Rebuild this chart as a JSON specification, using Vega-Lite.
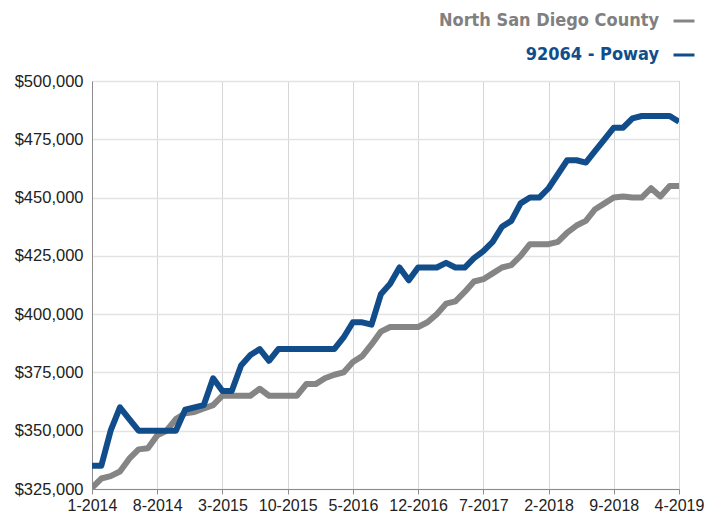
{
  "$schema": "https://vega.github.io/schema/vega-lite/v6.json",
  "autosize": {"type": "none"},
  "width": 587,
  "height": 408,
  "padding": {"left": 92, "top": 81, "right": 39, "bottom": 29},
  "background": "white",
  "config": {
    "view": {"stroke": "#8c8c8c", "strokeWidth": 1},
    "font": "Liberation Sans"
  },
  "data": {
    "values": [
      {"d":"1-2014","s":"North San Diego County","v":325500},
      {"d":"2-2014","s":"North San Diego County","v":329500},
      {"d":"3-2014","s":"North San Diego County","v":330500},
      {"d":"4-2014","s":"North San Diego County","v":332500},
      {"d":"5-2014","s":"North San Diego County","v":338000},
      {"d":"6-2014","s":"North San Diego County","v":342000},
      {"d":"7-2014","s":"North San Diego County","v":342500},
      {"d":"8-2014","s":"North San Diego County","v":348000},
      {"d":"9-2014","s":"North San Diego County","v":350000},
      {"d":"10-2014","s":"North San Diego County","v":355000},
      {"d":"11-2014","s":"North San Diego County","v":357500},
      {"d":"12-2014","s":"North San Diego County","v":358000},
      {"d":"1-2015","s":"North San Diego County","v":359500},
      {"d":"2-2015","s":"North San Diego County","v":361000},
      {"d":"3-2015","s":"North San Diego County","v":365000},
      {"d":"4-2015","s":"North San Diego County","v":365000},
      {"d":"5-2015","s":"North San Diego County","v":365000},
      {"d":"6-2015","s":"North San Diego County","v":365000},
      {"d":"7-2015","s":"North San Diego County","v":368000},
      {"d":"8-2015","s":"North San Diego County","v":365000},
      {"d":"9-2015","s":"North San Diego County","v":365000},
      {"d":"10-2015","s":"North San Diego County","v":365000},
      {"d":"11-2015","s":"North San Diego County","v":365000},
      {"d":"12-2015","s":"North San Diego County","v":370000},
      {"d":"1-2016","s":"North San Diego County","v":370000},
      {"d":"2-2016","s":"North San Diego County","v":372500},
      {"d":"3-2016","s":"North San Diego County","v":374000},
      {"d":"4-2016","s":"North San Diego County","v":375000},
      {"d":"5-2016","s":"North San Diego County","v":379500},
      {"d":"6-2016","s":"North San Diego County","v":382000},
      {"d":"7-2016","s":"North San Diego County","v":387000},
      {"d":"8-2016","s":"North San Diego County","v":392500},
      {"d":"9-2016","s":"North San Diego County","v":394500},
      {"d":"10-2016","s":"North San Diego County","v":394500},
      {"d":"11-2016","s":"North San Diego County","v":394500},
      {"d":"12-2016","s":"North San Diego County","v":394500},
      {"d":"1-2017","s":"North San Diego County","v":396500},
      {"d":"2-2017","s":"North San Diego County","v":400000},
      {"d":"3-2017","s":"North San Diego County","v":404500},
      {"d":"4-2017","s":"North San Diego County","v":405500},
      {"d":"5-2017","s":"North San Diego County","v":409500},
      {"d":"6-2017","s":"North San Diego County","v":414000},
      {"d":"7-2017","s":"North San Diego County","v":415000},
      {"d":"8-2017","s":"North San Diego County","v":417500},
      {"d":"9-2017","s":"North San Diego County","v":420000},
      {"d":"10-2017","s":"North San Diego County","v":421000},
      {"d":"11-2017","s":"North San Diego County","v":425000},
      {"d":"12-2017","s":"North San Diego County","v":430000},
      {"d":"1-2018","s":"North San Diego County","v":430000},
      {"d":"2-2018","s":"North San Diego County","v":430000},
      {"d":"3-2018","s":"North San Diego County","v":431000},
      {"d":"4-2018","s":"North San Diego County","v":435000},
      {"d":"5-2018","s":"North San Diego County","v":438000},
      {"d":"6-2018","s":"North San Diego County","v":440000},
      {"d":"7-2018","s":"North San Diego County","v":445000},
      {"d":"8-2018","s":"North San Diego County","v":447500},
      {"d":"9-2018","s":"North San Diego County","v":450000},
      {"d":"10-2018","s":"North San Diego County","v":450500},
      {"d":"11-2018","s":"North San Diego County","v":450000},
      {"d":"12-2018","s":"North San Diego County","v":450000},
      {"d":"1-2019","s":"North San Diego County","v":454000},
      {"d":"2-2019","s":"North San Diego County","v":450500},
      {"d":"3-2019","s":"North San Diego County","v":455000},
      {"d":"4-2019","s":"North San Diego County","v":455000},
      {"d":"1-2014","s":"92064 - Poway","v":335000},
      {"d":"2-2014","s":"92064 - Poway","v":335000},
      {"d":"3-2014","s":"92064 - Poway","v":350000},
      {"d":"4-2014","s":"92064 - Poway","v":360000},
      {"d":"5-2014","s":"92064 - Poway","v":355000},
      {"d":"6-2014","s":"92064 - Poway","v":350000},
      {"d":"7-2014","s":"92064 - Poway","v":350000},
      {"d":"8-2014","s":"92064 - Poway","v":350000},
      {"d":"9-2014","s":"92064 - Poway","v":350000},
      {"d":"10-2014","s":"92064 - Poway","v":350000},
      {"d":"11-2014","s":"92064 - Poway","v":359000},
      {"d":"12-2014","s":"92064 - Poway","v":360000},
      {"d":"1-2015","s":"92064 - Poway","v":361000},
      {"d":"2-2015","s":"92064 - Poway","v":372500},
      {"d":"3-2015","s":"92064 - Poway","v":367000},
      {"d":"4-2015","s":"92064 - Poway","v":367000},
      {"d":"5-2015","s":"92064 - Poway","v":378000},
      {"d":"6-2015","s":"92064 - Poway","v":382500},
      {"d":"7-2015","s":"92064 - Poway","v":385000},
      {"d":"8-2015","s":"92064 - Poway","v":380000},
      {"d":"9-2015","s":"92064 - Poway","v":385000},
      {"d":"10-2015","s":"92064 - Poway","v":385000},
      {"d":"11-2015","s":"92064 - Poway","v":385000},
      {"d":"12-2015","s":"92064 - Poway","v":385000},
      {"d":"1-2016","s":"92064 - Poway","v":385000},
      {"d":"2-2016","s":"92064 - Poway","v":385000},
      {"d":"3-2016","s":"92064 - Poway","v":385000},
      {"d":"4-2016","s":"92064 - Poway","v":390000},
      {"d":"5-2016","s":"92064 - Poway","v":396500},
      {"d":"6-2016","s":"92064 - Poway","v":396500},
      {"d":"7-2016","s":"92064 - Poway","v":395500},
      {"d":"8-2016","s":"92064 - Poway","v":408500},
      {"d":"9-2016","s":"92064 - Poway","v":413000},
      {"d":"10-2016","s":"92064 - Poway","v":420000},
      {"d":"11-2016","s":"92064 - Poway","v":414500},
      {"d":"12-2016","s":"92064 - Poway","v":420000},
      {"d":"1-2017","s":"92064 - Poway","v":420000},
      {"d":"2-2017","s":"92064 - Poway","v":420000},
      {"d":"3-2017","s":"92064 - Poway","v":422000},
      {"d":"4-2017","s":"92064 - Poway","v":420000},
      {"d":"5-2017","s":"92064 - Poway","v":420000},
      {"d":"6-2017","s":"92064 - Poway","v":424000},
      {"d":"7-2017","s":"92064 - Poway","v":427000},
      {"d":"8-2017","s":"92064 - Poway","v":431000},
      {"d":"9-2017","s":"92064 - Poway","v":437500},
      {"d":"10-2017","s":"92064 - Poway","v":440000},
      {"d":"11-2017","s":"92064 - Poway","v":447500},
      {"d":"12-2017","s":"92064 - Poway","v":450000},
      {"d":"1-2018","s":"92064 - Poway","v":450000},
      {"d":"2-2018","s":"92064 - Poway","v":454000},
      {"d":"3-2018","s":"92064 - Poway","v":460000},
      {"d":"4-2018","s":"92064 - Poway","v":466000},
      {"d":"5-2018","s":"92064 - Poway","v":466000},
      {"d":"6-2018","s":"92064 - Poway","v":465000},
      {"d":"7-2018","s":"92064 - Poway","v":470000},
      {"d":"8-2018","s":"92064 - Poway","v":475000},
      {"d":"9-2018","s":"92064 - Poway","v":480000},
      {"d":"10-2018","s":"92064 - Poway","v":480000},
      {"d":"11-2018","s":"92064 - Poway","v":484000},
      {"d":"12-2018","s":"92064 - Poway","v":485000},
      {"d":"1-2019","s":"92064 - Poway","v":485000},
      {"d":"2-2019","s":"92064 - Poway","v":485000},
      {"d":"3-2019","s":"92064 - Poway","v":485000},
      {"d":"4-2019","s":"92064 - Poway","v":482500}
    ]
  },
  "mark": {"type": "line", "strokeWidth": 6, "strokeJoin": "round", "strokeCap": "butt", "clip": true},
  "encoding": {
    "x": {
      "field": "d", "type": "ordinal", "sort": null,
      "scale": {"type": "point", "padding": 0},
      "axis": {
        "title": null,
        "values": ["1-2014","8-2014","3-2015","10-2015","5-2016","12-2016","7-2017","2-2018","9-2018","4-2019"],
        "labelAngle": 0,
        "labelFont": "Liberation Sans", "labelFontSize": 16, "labelColor": "#222222",
        "labelPadding": 3,
        "ticks": true, "tickSize": 5, "tickColor": "#8c8c8c",
        "domainColor": "#8c8c8c",
        "grid": true, "gridColor": "#d6d6d6", "gridWidth": 1,
        "labelOverlap": false
      }
    },
    "y": {
      "field": "v", "type": "quantitative",
      "scale": {"domain": [325000, 500000], "nice": false, "zero": false},
      "axis": {
        "title": null,
        "values": [325000,350000,375000,400000,425000,450000,475000,500000],
        "format": "$,.0f",
        "labelFont": "Liberation Sans", "labelFontSize": 16.5, "labelColor": "#222222",
        "ticks": false, "tickSize": 0, "labelPadding": 9,
        "domainColor": "#8c8c8c",
        "grid": true, "gridColor": "#e3e3e3", "gridWidth": 1.5
      }
    },
    "color": {
      "field": "s", "type": "nominal",
      "scale": {"domain": ["North San Diego County", "92064 - Poway"], "range": ["#858585", "#124d8b"]},
      "legend": {
        "title": null,
        "orient": "none",
        "legendX": 580,
        "legendY": -72,
        "direction": "vertical",
        "padding": 0,
        "symbolType": "stroke",
        "symbolSize": 441,
        "symbolStrokeWidth": 3,
        "labelFont": "'DejaVu Sans Condensed', 'Roboto Condensed', 'Liberation Sans'",
        "labelFontSize": 18,
        "labelFontWeight": "bold",
        "labelAlign": "right",
        "labelOffset": -37,
        "labelLimit": 400,
        "rowPadding": 13,
        "encode": {
          "labels": {"update": {"fill": {"signal": "datum.label === 'North San Diego County' ? '#808080' : '#124d8b'"}}}
        }
      }
    }
  }
}
